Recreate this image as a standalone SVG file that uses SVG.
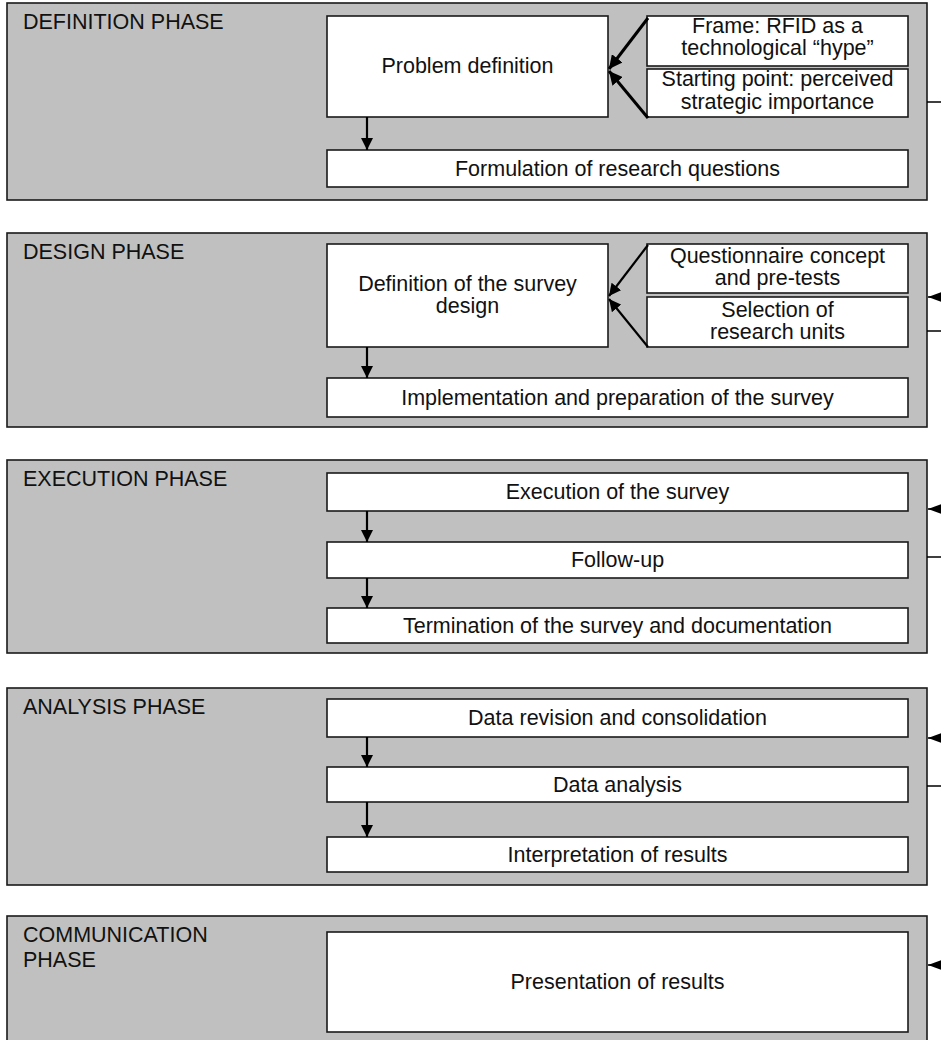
<svg xmlns="http://www.w3.org/2000/svg" width="941" height="1040" viewBox="0 0 941 1040">
<defs>
<style>
.phase{fill:#c0c0c0;stroke:#1a1a1a;stroke-width:1.6}
.box{fill:#fff;stroke:#1a1a1a;stroke-width:1.6}
text{font-family:"Liberation Sans",Arial,sans-serif;font-size:21.5px;fill:#111}
.c{text-anchor:middle}
.conn{fill:none;stroke:#000;stroke-width:2.2}
.thick{stroke-width:3}
.fb{fill:none;stroke:#000;stroke-width:1.6}
</style>
<marker id="ah" viewBox="0 0 10 10" refX="10" refY="5" markerWidth="5.5" markerHeight="5.5" markerUnits="strokeWidth" orient="auto">
<path d="M0,0 L10,5 L0,10 Z" fill="#000"/>
</marker>
<marker id="ahs" viewBox="0 0 10 10" refX="10" refY="5" markerWidth="4.5" markerHeight="4.5" markerUnits="strokeWidth" orient="auto">
<path d="M0,0 L10,5 L0,10 Z" fill="#000"/>
</marker>
<marker id="ahf" viewBox="0 0 14 10" refX="14" refY="5" markerWidth="14" markerHeight="10" markerUnits="userSpaceOnUse" orient="auto">
<path d="M0,0 L14,5 L0,10 Z" fill="#000"/>
</marker>
</defs>

<g id="phase-definition">
<rect class="phase" x="7" y="3" width="920" height="197"/>
<text x="23" y="29">DEFINITION PHASE</text>
</g>
<g id="phase-design">
<rect class="phase" x="7" y="233" width="920" height="194"/>
<text x="23" y="259">DESIGN PHASE</text>
</g>
<g id="phase-execution">
<rect class="phase" x="7" y="460" width="920" height="193"/>
<text x="23" y="486">EXECUTION PHASE</text>
</g>
<g id="phase-analysis">
<rect class="phase" x="7" y="688" width="920" height="197"/>
<text x="23" y="714">ANALYSIS PHASE</text>
</g>
<g id="phase-communication">
<rect class="phase" x="7" y="916" width="920" height="130"/>
<text x="23" y="942">COMMUNICATION</text>
<text x="23" y="967">PHASE</text>
</g>

<g id="problem-definition">
<rect class="box" x="327" y="16" width="281" height="101"/>
<text class="c" x="467.5" y="73">Problem definition</text>
</g>
<g id="frame">
<rect class="box" x="647" y="16" width="261" height="50"/>
<text class="c" x="777.5" y="33">Frame: RFID as a</text>
<text class="c" x="777.5" y="55">technological “hype”</text>
</g>
<g id="starting-point">
<rect class="box" x="647" y="69" width="261" height="48"/>
<text class="c" x="777.5" y="86">Starting point: perceived</text>
<text class="c" x="777.5" y="108.5">strategic importance</text>
</g>
<g id="formulation">
<rect class="box" x="327" y="150" width="581" height="37"/>
<text class="c" x="617.5" y="175.5">Formulation of research questions</text>
</g>

<g id="survey-design">
<rect class="box" x="327" y="244" width="281" height="103"/>
<text class="c" x="467.5" y="291">Definition of the survey</text>
<text class="c" x="467.5" y="313">design</text>
</g>
<g id="questionnaire">
<rect class="box" x="647" y="244" width="261" height="49"/>
<text class="c" x="777.5" y="263">Questionnaire concept</text>
<text class="c" x="777.5" y="285">and pre-tests</text>
</g>
<g id="selection">
<rect class="box" x="647" y="297" width="261" height="50"/>
<text class="c" x="777.5" y="317">Selection of</text>
<text class="c" x="777.5" y="339">research units</text>
</g>
<g id="implementation">
<rect class="box" x="327" y="378" width="581" height="39"/>
<text class="c" x="617.5" y="404.5">Implementation and preparation of the survey</text>
</g>

<g id="execution">
<rect class="box" x="327" y="473" width="581" height="38"/>
<text class="c" x="617.5" y="499">Execution of the survey</text>
</g>
<g id="follow-up">
<rect class="box" x="327" y="542" width="581" height="36"/>
<text class="c" x="617.5" y="567">Follow-up</text>
</g>
<g id="termination">
<rect class="box" x="327" y="608" width="581" height="35"/>
<text class="c" x="617.5" y="632.5">Termination of the survey and documentation</text>
</g>

<g id="data-revision">
<rect class="box" x="327" y="699" width="581" height="38"/>
<text class="c" x="617.5" y="724.5">Data revision and consolidation</text>
</g>
<g id="data-analysis">
<rect class="box" x="327" y="767" width="581" height="35"/>
<text class="c" x="617.5" y="791.5">Data analysis</text>
</g>
<g id="interpretation">
<rect class="box" x="327" y="837" width="581" height="35"/>
<text class="c" x="617.5" y="861.5">Interpretation of results</text>
</g>

<g id="presentation">
<rect class="box" x="327" y="932" width="581" height="100"/>
<text class="c" x="617.5" y="988.5">Presentation of results</text>
</g>

<g id="connectors">
<path class="conn thick" d="M648,18 L609,69" marker-end="url(#ahs)"/>
<path class="conn thick" d="M648,118 L609,71" marker-end="url(#ahs)"/>
<path class="conn" d="M367,117 V150" marker-end="url(#ah)"/>

<path class="conn" d="M648,245 L609,296" marker-end="url(#ah)"/>
<path class="conn" d="M648,347 L609,299" marker-end="url(#ah)"/>
<path class="conn" d="M367,347 V378" marker-end="url(#ah)"/>

<path class="conn" d="M367,511 V542" marker-end="url(#ah)"/>
<path class="conn" d="M367,578 V608" marker-end="url(#ah)"/>

<path class="conn" d="M367,737 V767" marker-end="url(#ah)"/>
<path class="conn" d="M367,802 V837" marker-end="url(#ah)"/>

<path class="fb" d="M927,102 H960 V297 H928" marker-end="url(#ahf)"/>
<path class="fb" d="M927,331 H960 V509 H928" marker-end="url(#ahf)"/>
<path class="fb" d="M927,557 H960 V738 H928" marker-end="url(#ahf)"/>
<path class="fb" d="M927,786 H960 V965 H928" marker-end="url(#ahf)"/>
</g>
</svg>
